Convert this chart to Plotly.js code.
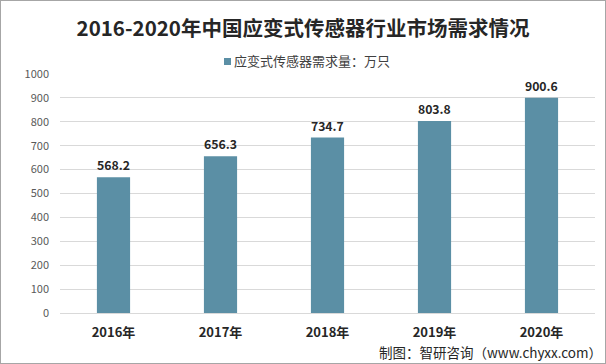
<!DOCTYPE html>
<html><head><meta charset="utf-8">
<script src="https://cdn.plot.ly/plotly-3.0.1.min.js"></script>
<style>html,body{margin:0;padding:0;background:#fff}#wrap{position:relative;width:606px;height:364px}#frame{position:absolute;left:0;top:0;width:604px;height:362px;border:1px solid #a6a6a6;pointer-events:none}</style>
</head><body><div id="wrap"><div id="chart" style="width:606px;height:364px"></div><div id="frame"></div></div>
<script>
const years = ["2016年","2017年","2018年","2019年","2020年"];
const demand = [568.2, 656.3, 734.7, 803.8, 900.6];
const seriesName = "应变式传感器需求量：万只";
const titleText = "2016-2020年中国应变式传感器行业市场需求情况";
const footerText = "制图：智研咨询（www.chyxx.com）";
const yTicks = [0,100,200,300,400,500,600,700,800,900,1000];

const font = '"Noto Sans CJK SC", "Noto Sans", sans-serif';
const barColor = '#5B8FA5';
const L = 60, W = 535, T = 74, H = 239;
const px = x => (x - L) / W, py = y => (T + H - y) / H;
Plotly.newPlot('chart', [{
  type: 'bar', x: years, y: demand, name: seriesName,
  marker: {color: barColor},
  text: demand.map(v => v.toFixed(1)), textposition: 'outside',
  textfont: {family: font, size: 13, color: '#262626', weight: 'bold'},
  cliponaxis: false
}], {
  width: 606, height: 364,
  margin: {l: L, r: 606 - L - W, t: T, b: 364 - T - H},
  paper_bgcolor: '#fff', plot_bgcolor: '#fff',
  bargap: 0.69,
  showlegend: false,
  title: {text: titleText, font: {family: font, size: 20.5, color: '#262626', weight: 'bold'},
    x: 0.5, xanchor: 'center', xref: 'container', y: 1 - 29/364, yref: 'container', yanchor: 'middle'},
  xaxis: {tickfont: {family: font, size: 13, color: '#262626', weight: 'bold'}, showgrid: false,
    showline: false, ticks: '', ticklabelstandoff: 10},
  yaxis: {range: [0, 1000], tickvals: yTicks, ticktext: yTicks.map(String),
    tickfont: {family: font, size: 11, color: '#595959'}, gridcolor: '#d9d9d9', gridwidth: 1,
    zeroline: true, zerolinecolor: '#d9d9d9', showline: false, ticks: '', ticklabelstandoff: 10},
  shapes: [{type: 'rect', xref: 'paper', yref: 'paper', x0: px(224), x1: px(231), y0: py(65), y1: py(58),
    fillcolor: barColor, line: {width: 0}}],
  annotations: [
    {text: seriesName, xref: 'paper', yref: 'paper', x: px(232), y: py(61), xanchor: 'left', yanchor: 'middle',
      showarrow: false, font: {family: font, size: 13, color: '#404040'}},
    {text: footerText, xref: 'paper', yref: 'paper', x: px(604), y: py(352),
    xanchor: 'right', yanchor: 'middle', showarrow: false, font: {family: font, size: 13.5, color: '#262626'}}]
}, {displayModeBar: false, staticPlot: true});
</script></body></html>
